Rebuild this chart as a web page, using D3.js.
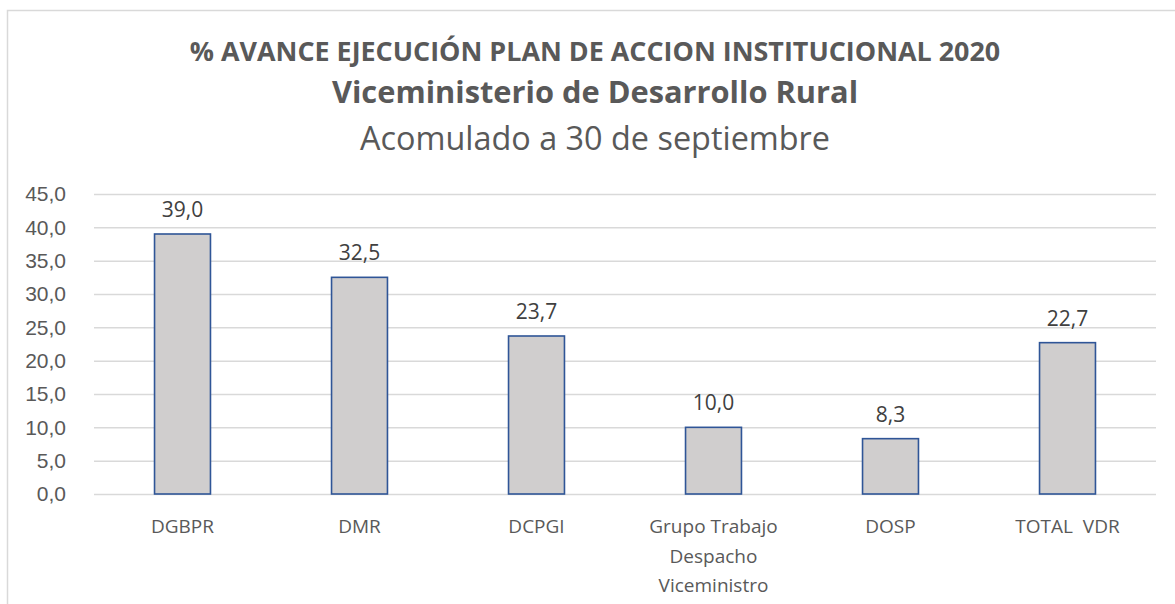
<!DOCTYPE html>
<html lang="es">
<head>
<meta charset="utf-8">
<title>Avance PAI 2020</title>
<script src="https://cdnjs.cloudflare.com/ajax/libs/d3/7.8.5/d3.min.js"></script>
<style>
  body { margin: 0; background: #fff; }
  svg { display: block; font-family: "Open Sans", Lato, sans-serif; }
  .grid line { stroke: #d9d9d9; stroke-width: 1.5px; }
  .grid path { display: none; }
  .yaxis text { fill: #595959; font-size: 21px; }
  .yaxis path, .yaxis line { display: none; }
  .bar { fill: #d0cece; stroke: #2f5597; stroke-width: 1.6px; }
  .val { fill: #404040; font-size: 21px; text-anchor: middle; }
  .cat { fill: #595959; font-size: 19px; text-anchor: middle; }
</style>
</head>
<body>
<div id="chart"></div>
<script>
var categories = ["DGBPR", "DMR", "DCPGI", "Grupo Trabajo|Despacho|Viceministro", "DOSP", "TOTAL  VDR"];
var values = [39.0, 32.5, 23.7, 10.0, 8.3, 22.7];
var yTicks = [0, 5, 10, 15, 20, 25, 30, 35, 40, 45];
var titles = ["% AVANCE EJECUCIÓN PLAN DE ACCION INSTITUCIONAL 2020", "Viceministerio de Desarrollo Rural", "Acomulado a 30 de septiembre"];

var W = 1175, H = 604;
var pLeft = 94, pRight = 1156, pTop = 194, pBottom = 494;

var fmt = function(v) { return d3.format(".1f")(v).replace(".", ","); };

var svg = d3.select("#chart").append("svg")
  .attr("width", W).attr("height", H);

// chart border (runs off the right and bottom edges)
svg.append("rect")
  .attr("x", 7.5).attr("y", 10.5)
  .attr("width", W + 10).attr("height", H + 10)
  .attr("fill", "none").attr("stroke", "#d9d9d9").attr("stroke-width", 1.5);

var x = d3.scaleBand().domain(categories).range([pLeft, pRight]).paddingInner(0.684).paddingOuter(0.342);
var y = d3.scaleLinear().domain([0, 45]).range([pBottom, pTop]);

svg.append("g").attr("class", "grid")
  .attr("transform", "translate(" + pLeft + ",0)")
  .call(d3.axisLeft(y).tickValues(yTicks).tickSize(-(pRight - pLeft)).tickFormat(""));

svg.append("g").attr("class", "yaxis")
  .attr("transform", "translate(" + (pLeft - 28) + ",0)")
  .call(d3.axisLeft(y).tickValues(yTicks).tickSize(0).tickPadding(0).tickFormat(fmt));

svg.selectAll(".bar").data(values).enter().append("rect")
  .attr("class", "bar")
  .attr("x", function(d, i) { return x(categories[i]); })
  .attr("y", function(d) { return y(d); })
  .attr("width", x.bandwidth())
  .attr("height", function(d) { return y(0) - y(d); });

svg.selectAll(".val").data(values).enter().append("text")
  .attr("class", "val")
  .attr("x", function(d, i) { return x(categories[i]) + x.bandwidth() / 2; })
  .attr("y", function(d) { return y(d) - 17; })
  .text(fmt);

var cats = svg.selectAll(".cat").data(categories).enter().append("text")
  .attr("class", "cat")
  .attr("x", function(d) { return x(d) + x.bandwidth() / 2; })
  .attr("y", 533);
cats.selectAll("tspan").data(function(d) { return d.split("|"); }).enter().append("tspan")
  .attr("x", function() { return d3.select(this.parentNode).attr("x"); })
  .attr("dy", function(d, i) { return i ? 29.5 : 0; })
  .style("white-space", "pre")
  .text(function(d) { return d; });

var tSizes = [26.9, 30.8, 32.4], tY = [61, 103, 150], tW = ["bold", "bold", "normal"];
svg.selectAll(".title").data(titles).enter().append("text")
  .attr("class", "title")
  .attr("x", 595)
  .attr("y", function(d, i) { return tY[i]; })
  .attr("text-anchor", "middle")
  .attr("fill", "#595959")
  .attr("font-size", function(d, i) { return tSizes[i]; })
  .attr("font-weight", function(d, i) { return tW[i]; })
  .text(function(d) { return d; });
</script>
</body>
</html>
